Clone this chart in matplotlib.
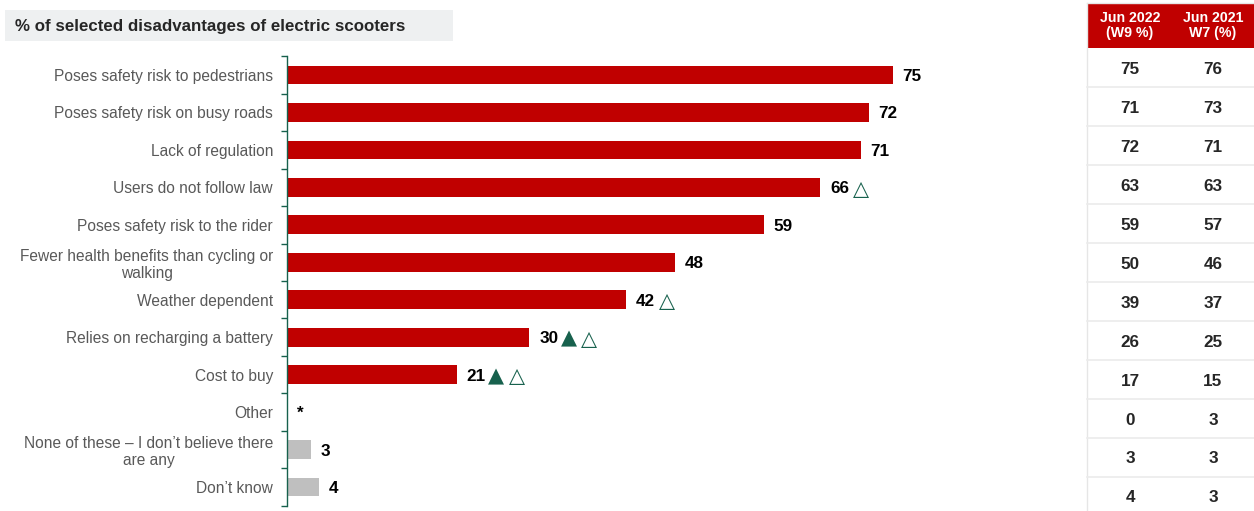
import matplotlib
matplotlib.use("Agg")
import matplotlib.pyplot as plt
from matplotlib.patches import Rectangle

plt.rcParams["font.family"] = ["Liberation Sans", "DejaVu Sans"]

# ---- data -------------------------------------------------------------
categories = [
    "Poses safety risk to pedestrians",
    "Poses safety risk on busy roads",
    "Lack of regulation",
    "Users do not follow law",
    "Poses safety risk to the rider",
    "Fewer health benefits than cycling or\nwalking",
    "Weather dependent",
    "Relies on recharging a battery",
    "Cost to buy",
    "Other",
    "None of these \u2013 I don\u2019t believe there\nare any",
    "Don\u2019t know",
]
bar_values = [75, 72, 71, 66, 59, 48, 42, 30, 21, 0, 3, 4]
bar_labels = ["75", "72", "71", "66", "59", "48", "42", "30", "21", "*", "3", "4"]
# significance markers: filled = vs previous wave, outline = vs earlier wave
filled_marks = [False, False, False, False, False, False, False, True, True, False, False, False]
open_marks = [False, False, False, True, False, False, True, True, True, False, False, False]
grey_rows = ["None of these \u2013 I don\u2019t believe there\nare any", "Don\u2019t know", "Other"]

table_headers = ["Jun 2022\n(W9 %)", "Jun 2021\nW7 (%)"]
table_jun2022 = [75, 71, 72, 63, 59, 50, 39, 26, 17, 0, 3, 4]
table_jun2021 = [76, 73, 71, 63, 57, 46, 37, 25, 15, 3, 3, 3]

# ---- styling ----------------------------------------------------------
RED = "#C00000"
GREY_BAR = "#BFBFBF"
GREEN = "#17614D"
LABEL_GREY = "#595959"
TEXT_DARK = "#262626"

W, H = 1254, 511
fig = plt.figure(figsize=(W / 100, H / 100), dpi=100)

# overlay in pixel coordinates for the title box and the side table
bg = fig.add_axes([0, 0, 1, 1], zorder=0)
bg.set_xlim(0, W)
bg.set_ylim(H, 0)
bg.axis("off")

bg.add_patch(Rectangle((5, 10), 448, 31, facecolor="#EEF0F1", edgecolor="none"))
bg.text(15, 26, "% of selected disadvantages of electric scooters",
        fontsize=12.2, fontweight="bold", color=TEXT_DARK, va="center", ha="left")

# ---- bar chart --------------------------------------------------------
ax_left, ax_right = 287, 1080
ax_top, ax_bottom = 56.3, 505.7
ax = fig.add_axes([ax_left / W, 1 - ax_bottom / H,
                   (ax_right - ax_left) / W, (ax_bottom - ax_top) / H], zorder=1)
ax.patch.set_alpha(0)

n = len(categories)
ypos = list(range(n))
colors = [GREY_BAR if c in grey_rows else RED for c in categories]
ax.barh(ypos, bar_values, height=0.5, color=colors)

ax.set_xlim(0, (ax_right - ax_left) / 8.08)
ax.set_ylim(n - 0.5, -0.5)

for s in ["top", "right", "bottom"]:
    ax.spines[s].set_visible(False)
ax.spines["left"].set_color(GREEN)
ax.spines["left"].set_linewidth(1.0)
ax.set_xticks([])

ax.set_yticks(ypos)
ax.set_yticklabels(categories, fontsize=11.2, color=LABEL_GREY,
                   multialignment="center", linespacing=1.2)
ax.tick_params(axis="y", which="major", length=0, pad=10)
ax.set_yticks([i - 0.5 for i in range(n + 1)], minor=True)
ax.tick_params(axis="y", which="minor", length=4, color=GREEN, width=1.0)

for i, (v, lab) in enumerate(zip(bar_values, bar_labels)):
    t = ax.annotate(lab, xy=(v, i), xytext=(7, 0), textcoords="offset points",
                    va="center_baseline", ha="left", fontsize=12.3,
                    fontweight="bold", color="black")
    anchor = t
    if filled_marks[i]:
        anchor = ax.annotate("\u25B2", xy=(1, 0.5), xycoords=anchor,
                             xytext=(2, 0), textcoords="offset points",
                             va="center", ha="left", fontsize=15,
                             color=GREEN, family="DejaVu Sans")
    if open_marks[i]:
        ax.annotate("\u25B3", xy=(1, 0.5), xycoords=anchor,
                    xytext=(3, 0), textcoords="offset points",
                    va="center", ha="left", fontsize=15,
                    color=GREEN, family="DejaVu Sans")

# ---- side table -------------------------------------------------------
tx0, tx1 = 1087, 1254
col_centers = [1130, 1213]
head_top, head_bottom = 3, 48.3
row_h = 38.97

bg.add_patch(Rectangle((tx0, head_top), tx1 - tx0, head_bottom - head_top,
                       facecolor=RED, edgecolor="none"))
for cx, htxt in zip(col_centers, table_headers):
    bg.text(cx, (head_top + head_bottom) / 2, htxt, fontsize=10.2, fontweight="bold",
            color="white", ha="center", va="center", linespacing=1.1)

bg.plot([tx0, tx1], [head_top, head_top], color="#E6E6E6", lw=1)
bg.plot([tx0, tx0], [head_top, H], color="#E6E6E6", lw=1)
for i in range(n):
    y_top = head_bottom + row_h * i
    if i > 0:
        bg.plot([tx0, tx1], [y_top, y_top], color="#EBEBEB", lw=1.2)
    yc = y_top + row_h / 2
    for cx, val in zip(col_centers, (table_jun2022[i], table_jun2021[i])):
        bg.text(cx, yc, str(val), fontsize=12.3, fontweight="bold",
                color=TEXT_DARK, ha="center", va="center_baseline")

fig.savefig("out.png", dpi=100)
